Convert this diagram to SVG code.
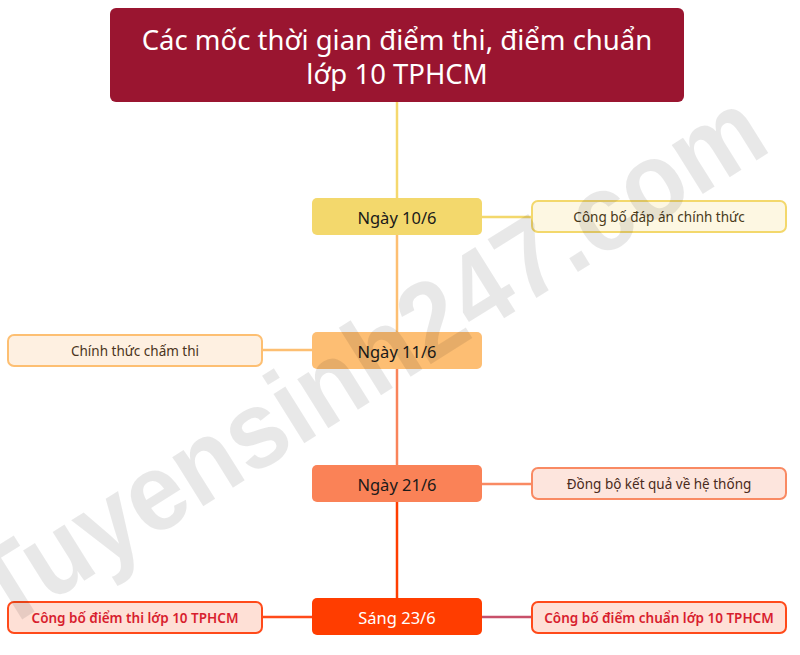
<svg xmlns="http://www.w3.org/2000/svg" width="800" height="655" viewBox="0 0 800 655">
<style>
text{font-family:"Noto Sans","Liberation Sans",sans-serif;text-anchor:middle;dominant-baseline:central}
.title{fill:#fff;font-size:27.5px}
.node{font-size:16.5px;fill:#1a1a1a}
.side{font-size:13.5px}
.conn{fill:none;stroke-width:2.5}
.wm{font-family:"Liberation Sans",sans-serif;font-weight:bold;font-size:110px;fill:#000;fill-opacity:0.09;text-anchor:start;dominant-baseline:auto}
</style>
<rect width="800" height="655" fill="#fff"/>
<g id="connectors">
<line class="conn" x1="397" y1="102" x2="397" y2="198" stroke="#f5d86e"/>
<line class="conn" x1="397" y1="235" x2="397" y2="332" stroke="#fdbf72"/>
<line class="conn" x1="397" y1="369" x2="397" y2="465" stroke="#f9845a"/>
<line class="conn" x1="397" y1="502" x2="397" y2="598" stroke="#ff3d00"/>
<line class="conn" x1="482" y1="217" x2="532" y2="217" stroke="#f3d86c"/>
<line class="conn" x1="262" y1="350" x2="312" y2="350" stroke="#fdbf72"/>
<line class="conn" x1="482" y1="484" x2="532" y2="484" stroke="#f98a63"/>
<line class="conn" x1="262" y1="617" x2="312" y2="617" stroke="#ff4a1a"/>
<line class="conn" x1="482" y1="617" x2="532" y2="617" stroke="#c8506a"/>
</g>
<g id="title">
<rect x="110" y="8" width="574" height="94" rx="6" fill="#9a1530"/>
<text class="title" x="397" y="39">Các mốc thời gian điểm thi, điểm chuẩn</text>
<text class="title" x="397" y="73">lớp 10 TPHCM</text>
</g>
<g id="n1">
<rect x="312" y="198" width="170" height="37" rx="5" fill="#f3d86c"/>
<text class="node" x="397" y="217">Ngày 10/6</text>
</g>
<g id="s1">
<rect x="532" y="201" width="254" height="31" rx="6" fill="#fdf7e2" stroke="#f3d86c" stroke-width="2"/>
<text class="side" x="659" y="217" fill="#4a3a1a">Công bố đáp án chính thức</text>
</g>
<g id="n2">
<rect x="312" y="332" width="170" height="37" rx="5" fill="#fdbe73"/>
<text class="node" x="397" y="351">Ngày 11/6</text>
</g>
<g id="s2">
<rect x="8" y="335" width="254" height="31" rx="6" fill="#fef0e1" stroke="#fdbf72" stroke-width="2"/>
<text class="side" x="135" y="351" fill="#4a3420">Chính thức chấm thi</text>
</g>
<g id="n3">
<rect x="312" y="465" width="170" height="37" rx="5" fill="#fa8257"/>
<text class="node" x="397" y="484">Ngày 21/6</text>
</g>
<g id="s3">
<rect x="532" y="468" width="254" height="31" rx="6" fill="#fde5dd" stroke="#f98a63" stroke-width="2"/>
<text class="side" x="659" y="484" fill="#4a2a20">Đồng bộ kết quả về hệ thống</text>
</g>
<g id="n4">
<rect x="312" y="598" width="170" height="37" rx="5" fill="#ff3d00"/>
<text class="node" x="397" y="617" style="fill:#fff">Sáng 23/6</text>
</g>
<g id="s4">
<rect x="8" y="602" width="254" height="31" rx="6" fill="#fee0d6" stroke="#ff4a1a" stroke-width="2"/>
<text class="side" x="135" y="618" fill="#d81e2e" font-weight="600">Công bố điểm thi lớp 10 TPHCM</text>
</g>
<g id="s5">
<rect x="532" y="602" width="254" height="31" rx="6" fill="#fee0d6" stroke="#ff4a1a" stroke-width="2"/>
<text class="side" x="659" y="618" fill="#d81e2e" font-weight="600">Công bố điểm chuẩn lớp 10 TPHCM</text>
</g>
<text class="wm" x="0" y="0" transform="translate(2,632) rotate(-32)" textLength="910" lengthAdjust="spacingAndGlyphs">Tuyensinh247.com</text>
</svg>
